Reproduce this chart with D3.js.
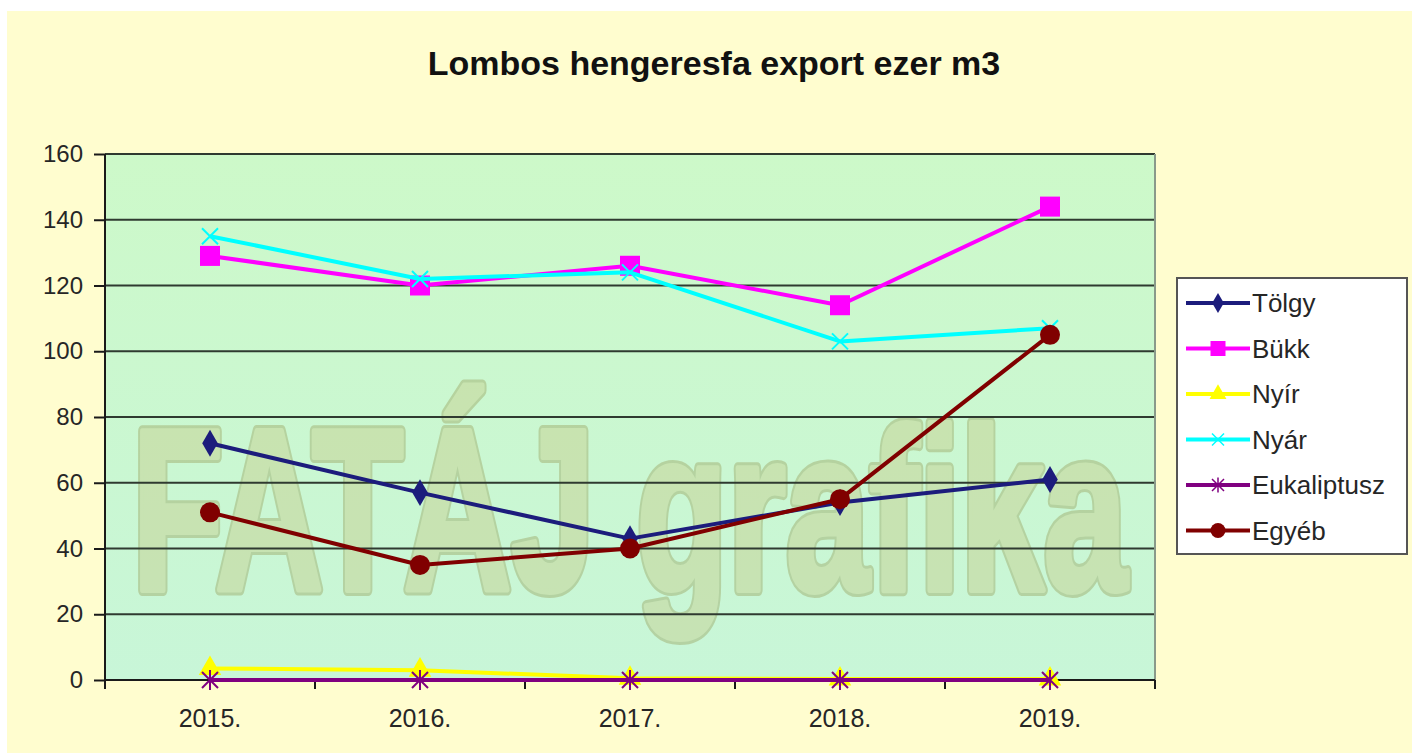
<!DOCTYPE html>
<html>
<head>
<meta charset="utf-8">
<script src="https://cdn.jsdelivr.net/npm/d3@7"></script>
<style>
  body { margin: 0; background: #ffffff; }
  text { font-family: "Liberation Sans", Arial, sans-serif; }
</style>
</head>
<body>
<script>
var width = 1412;
var height = 755;

var years = ["2015.", "2016.", "2017.", "2018.", "2019."];
var seriesNames = ["Tölgy", "Bükk", "Nyír", "Nyár", "Eukaliptusz", "Egyéb"];
var tolgy = [72, 57, 43, 54, 61];
var bukk = [129, 120, 126, 114, 144];
var nyir = [3.5, 3, 0.5, 0.3, 0.3];
var nyar = [135, 122, 124, 103, 107];
var eukaliptusz = [0, 0, 0, 0, 0];
var egyeb = [51, 35, 40, 55, 105];
var yTicks = [0, 20, 40, 60, 80, 100, 120, 140, 160];

var colors = ["#1c1c7c", "#ff00ff", "#ffff00", "#00ffff", "#800080", "#800000"];
var markers = ["diamond", "square", "triangle", "cross", "star", "circle"];
var values = [tolgy, bukk, nyir, nyar, eukaliptusz, egyeb];

var svg = d3.select("body")
  .append("svg")
  .attr("width", width)
  .attr("height", height);

var defs = svg.append("defs");
var grad = defs.append("linearGradient")
  .attr("id", "plotbg")
  .attr("x1", 0).attr("y1", 0).attr("x2", 0).attr("y2", 1);
grad.append("stop").attr("offset", "0%").attr("stop-color", "#cdf9c9");
grad.append("stop").attr("offset", "100%").attr("stop-color", "#c8f6d8");

// chart background
svg.append("rect")
  .attr("x", 7)
  .attr("y", 11)
  .attr("width", width - 7)
  .attr("height", 742)
  .attr("fill", "#fffdcf");

svg.append("text")
  .attr("x", 714)
  .attr("y", 75)
  .attr("text-anchor", "middle")
  .attr("font-size", 34)
  .attr("font-weight", "bold")
  .attr("fill", "#111")
  .text("Lombos hengeresfa export ezer m3");

var x = d3.scaleBand()
  .domain(years)
  .range([105, 1155])
  .padding(0);

var y = d3.scaleLinear()
  .domain([0, 160])
  .range([680, 154]);

function cx(i) {
  return x(years[i]) + x.bandwidth() / 2;
}

var plot = svg.append("g");

plot.append("rect")
  .attr("x", 105)
  .attr("y", y(160))
  .attr("width", 1050)
  .attr("height", y(0) - y(160))
  .attr("fill", "url(#plotbg)");

// watermark
var wm = plot.append("g").attr("opacity", 0.33);
wm.append("text")
  .attr("x", 132)
  .attr("y", 590)
  .attr("textLength", 995)
  .attr("lengthAdjust", "spacingAndGlyphs")
  .attr("font-family", "'DejaVu Sans Condensed', 'DejaVu Sans', sans-serif")
  .attr("font-weight", "bold")
  .attr("font-size", 230)
  .attr("fill", "#8c8a3c")
  .attr("stroke", "#8c8a3c")
  .attr("stroke-width", 12)
  .attr("stroke-linejoin", "round")
  .text("FATÁJ grafika");
wm.append("text")
  .attr("x", 132)
  .attr("y", 590)
  .attr("textLength", 995)
  .attr("lengthAdjust", "spacingAndGlyphs")
  .attr("font-family", "'DejaVu Sans Condensed', 'DejaVu Sans', sans-serif")
  .attr("font-weight", "bold")
  .attr("font-size", 230)
  .attr("fill", "#c4bd70")
  .attr("stroke", "#c4bd70")
  .attr("stroke-width", 6)
  .attr("stroke-linejoin", "round")
  .text("FATÁJ grafika");

// gridlines
plot.selectAll("line.grid")
  .data(yTicks.slice(1))
  .enter()
  .append("line")
  .classed("grid", true)
  .attr("x1", 105)
  .attr("x2", 1155)
  .attr("y1", function (d) { return y(d); })
  .attr("y2", function (d) { return y(d); })
  .attr("stroke", "#2f3a30")
  .attr("stroke-width", 2);

plot.append("line")
  .attr("x1", 1155).attr("x2", 1155)
  .attr("y1", y(160)).attr("y2", y(0))
  .attr("stroke", "#8a9a8a")
  .attr("stroke-width", 2);

// axes
var yAxis = svg.append("g")
  .attr("transform", "translate(105,0)")
  .call(d3.axisLeft(y).tickValues(yTicks).tickSize(11).tickPadding(11));
var xAxis = svg.append("g")
  .attr("transform", "translate(0,680)")
  .call(d3.axisBottom(x).tickSize(0).tickPadding(29));

[yAxis, xAxis].forEach(function (ax) {
  ax.selectAll("path.domain").attr("stroke", "#1a1a1a").attr("stroke-width", 2);
  ax.selectAll("line").attr("stroke", "#1a1a1a").attr("stroke-width", 2);
  ax.selectAll("text")
    .attr("font-family", "'Liberation Sans', Arial, sans-serif")
    .attr("fill", "#262626");
});
yAxis.selectAll("text").attr("font-size", 24);
xAxis.selectAll("text").attr("font-size", 25);
xAxis.select("path.domain").attr("d", "M105,0H1155");
yAxis.select("path.domain").attr("d", "M0,154V680");

svg.append("g")
  .selectAll("line.xtick")
  .data(d3.range(6))
  .enter()
  .append("line")
  .attr("x1", function (d) { return 105 + d * x.bandwidth(); })
  .attr("x2", function (d) { return 105 + d * x.bandwidth(); })
  .attr("y1", 680)
  .attr("y2", 689)
  .attr("stroke", "#1a1a1a")
  .attr("stroke-width", 2);

function drawMarker(g, type, color, px, py, scale) {
  var s = scale || 1;
  if (type === "diamond") {
    g.append("path")
      .attr("d", d3.symbol().type(d3.symbolDiamond).size(210 * s * s)())
      .attr("transform", "translate(" + px + "," + py + ")")
      .attr("fill", color);
  } else if (type === "square") {
    g.append("rect")
      .attr("x", px - 10 * s).attr("y", py - 10 * s)
      .attr("width", 20 * s).attr("height", 20 * s)
      .attr("fill", color);
  } else if (type === "triangle") {
    g.append("path")
      .attr("d", d3.symbol().type(d3.symbolTriangle).size(220 * s * s)())
      .attr("transform", "translate(" + px + "," + py + ")")
      .attr("fill", color);
  } else if (type === "cross") {
    g.append("path")
      .attr("d", "M-8,-8L8,8M-8,8L8,-8")
      .attr("transform", "translate(" + px + "," + py + ") scale(" + s + ")")
      .attr("stroke", color)
      .attr("stroke-width", 2)
      .attr("fill", "none");
  } else if (type === "star") {
    g.append("path")
      .attr("d", "M-8,-8L8,8M-8,8L8,-8M0,-10L0,10")
      .attr("transform", "translate(" + px + "," + py + ") scale(" + s + ")")
      .attr("stroke", color)
      .attr("stroke-width", 2)
      .attr("fill", "none");
  } else if (type === "circle") {
    g.append("circle")
      .attr("cx", px).attr("cy", py)
      .attr("r", 10 * s)
      .attr("fill", color);
  }
}

var line = d3.line()
  .x(function (d, i) { return cx(i); })
  .y(function (d) { return y(d); });

var seriesG = svg.append("g");
values.forEach(function (vals, k) {
  var g = seriesG.append("g");
  g.append("path")
    .datum(vals)
    .attr("d", line)
    .attr("fill", "none")
    .attr("stroke", colors[k])
    .attr("stroke-width", 4)
    .attr("stroke-linejoin", "round");
  vals.forEach(function (v, i) {
    drawMarker(g, markers[k], colors[k], cx(i), y(v), 1);
  });
});

// legend
var legend = svg.append("g");
legend.append("rect")
  .attr("x", 1177)
  .attr("y", 278)
  .attr("width", 230)
  .attr("height", 276)
  .attr("fill", "#ffffff")
  .attr("stroke", "#555")
  .attr("stroke-width", 2);

seriesNames.forEach(function (name, k) {
  var ly = 303 + k * 45.5;
  legend.append("line")
    .attr("x1", 1186).attr("x2", 1250)
    .attr("y1", ly).attr("y2", ly)
    .attr("stroke", colors[k])
    .attr("stroke-width", 4);
  drawMarker(legend, markers[k], colors[k], 1218, ly, 0.75);
  legend.append("text")
    .attr("x", 1252)
    .attr("y", ly + 9)
    .attr("font-size", 26)
    .attr("fill", "#262626")
    .text(name);
});
</script>
</body>
</html>
